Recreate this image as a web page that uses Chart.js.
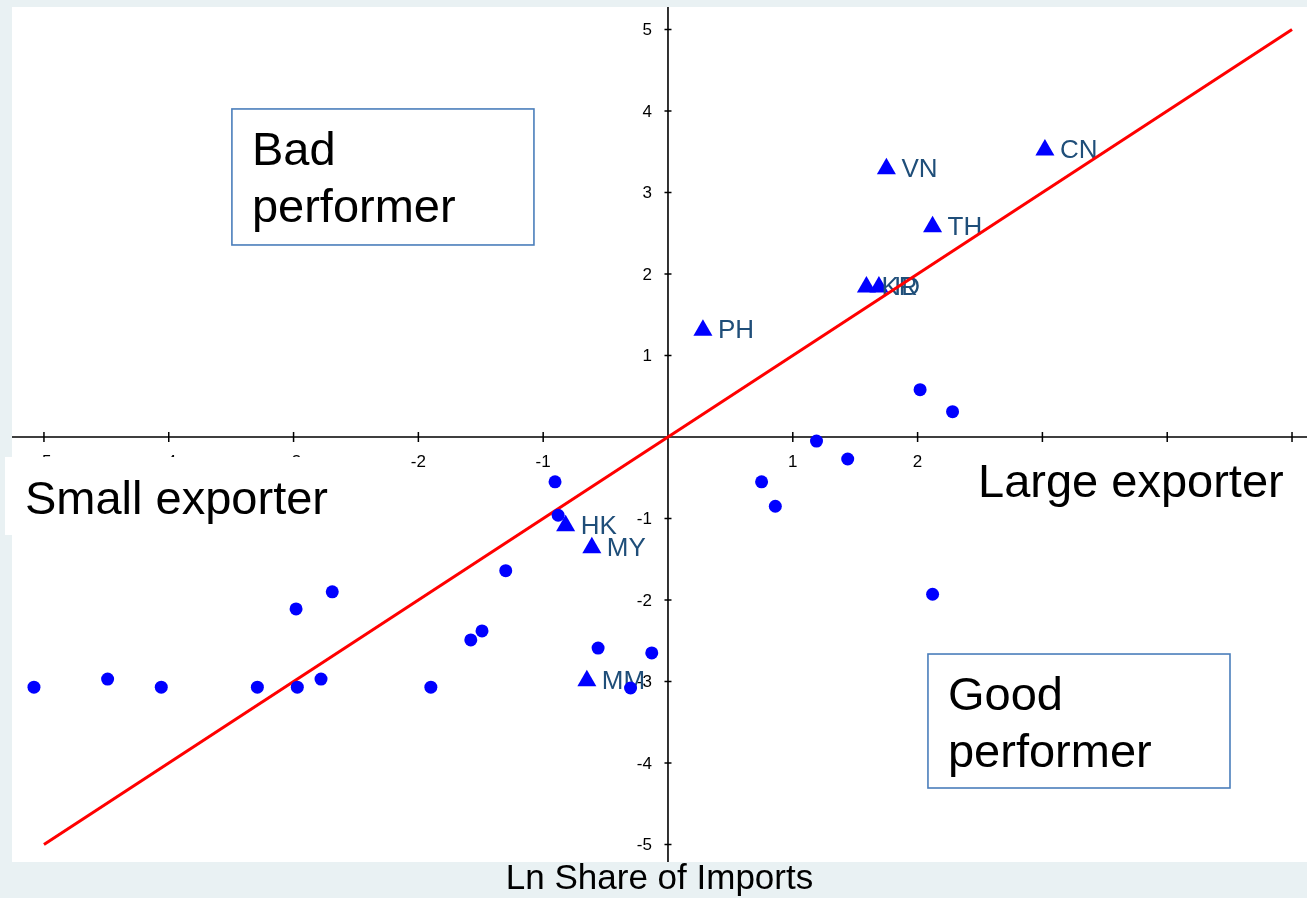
<!DOCTYPE html>
<html>
<head>
<meta charset="utf-8">
<title>Ln Share of Imports</title>
<script src="https://cdn.jsdelivr.net/npm/chart.js@4.4.1/dist/chart.umd.min.js"></script>
<style>
  html, body { margin: 0; padding: 0; background: #e9f1f3; overflow: hidden; }
  #wrap { width: 1307px; height: 898px; position: relative; }
</style>
</head>
<body>
<div id="wrap"><canvas id="chart"></canvas></div>
<script>
// Labelled economies (triangles)
const exporterCodes = ['CN', 'VN', 'TH', 'KR', 'ID', 'PH', 'HK', 'MY', 'MM'];
const exporterX = [3.02, 1.75, 2.12, 1.59, 1.69, 0.28, -0.82, -0.61, -0.65];
const exporterY = [3.52, 3.29, 2.58, 1.84, 1.84, 1.31, -1.09, -1.36, -2.99];

// Other economies (dots)
const otherX = [-0.905, -0.88, -1.30, -2.69, -2.98, -1.49, -1.58, -0.56, -0.13, -0.30,
                -5.08, -4.49, -4.06, -3.29, -2.97, -2.78, -1.90,
                1.19, 1.44, 0.75, 0.86, 2.02, 2.28, 2.12];
const otherY = [-0.55, -0.96, -1.64, -1.90, -2.11, -2.38, -2.49, -2.59, -2.65, -3.08,
                -3.07, -2.97, -3.07, -3.07, -3.07, -2.97, -3.07,
                -0.05, -0.27, -0.55, -0.85, 0.58, 0.31, -1.93];

// 45-degree reference line
const lineX = [-5, 5];
const lineY = [-5, 5];

// Axis ticks
const xTickValues = [-5, -4, -3, -2, -1, 1, 2, 3, 4, 5];
const yTickValues = [5, 4, 3, 2, 1, -1, -2, -3, -4, -5];
const xRange = [-5.256, 5.12];
const yRange = [-5.215, 5.276];

const FONT = "'Liberation Sans', Arial, Helvetica, sans-serif";
const LABEL_BLUE = '#1f4e79';
const MARK_BLUE = '#0000ff';

const toPoints = (xs, ys) => xs.map((x, i) => ({ x: x, y: ys[i] }));

// Grey page with a white plotting region
const backdrop = {
  id: 'backdrop',
  beforeDraw(chart) {
    const { ctx, chartArea: a } = chart;
    ctx.save();
    ctx.fillStyle = '#e9f1f3';
    ctx.fillRect(0, 0, chart.width, chart.height);
    ctx.fillStyle = '#ffffff';
    ctx.fillRect(a.left, a.top, a.right - a.left, a.bottom - a.top);
    ctx.restore();
  }
};

// Axes crossing at the origin, with tick marks and numbers
const crossAxes = {
  id: 'crossAxes',
  beforeDatasetsDraw(chart) {
    const { ctx, chartArea: a, scales: { x, y } } = chart;
    const x0 = x.getPixelForValue(0);
    const y0 = y.getPixelForValue(0);
    ctx.save();
    ctx.strokeStyle = '#000';
    ctx.lineWidth = 1.6;
    ctx.beginPath();
    ctx.moveTo(a.left, y0); ctx.lineTo(a.right, y0);
    ctx.moveTo(x0, a.top); ctx.lineTo(x0, a.bottom);
    ctx.stroke();

    ctx.lineWidth = 1.5;
    ctx.beginPath();
    xTickValues.forEach(v => {
      const px = x.getPixelForValue(v);
      ctx.moveTo(px, y0 - 5); ctx.lineTo(px, y0 + 5);
    });
    yTickValues.forEach(v => {
      const py = y.getPixelForValue(v);
      ctx.moveTo(x0 - 3.5, py); ctx.lineTo(x0 + 3.5, py);
    });
    ctx.stroke();

    ctx.fillStyle = '#000';
    ctx.font = '17px ' + FONT;
    ctx.textAlign = 'center';
    ctx.textBaseline = 'middle';
    xTickValues.forEach(v => {
      ctx.fillText(String(v), x.getPixelForValue(v), y0 + 25);
    });
    ctx.textAlign = 'right';
    yTickValues.forEach(v => {
      ctx.fillText(String(v), x0 - 16, y.getPixelForValue(v) + 1);
    });
    ctx.restore();
  }
};

// Country codes next to the triangle markers
const codeLabels = {
  id: 'codeLabels',
  afterDatasetDraw(chart, args) {
    if (chart.data.datasets[args.index].id !== 'labelled') return;
    const { ctx } = chart;
    ctx.save();
    ctx.fillStyle = LABEL_BLUE;
    ctx.font = '26px ' + FONT;
    ctx.textAlign = 'left';
    ctx.textBaseline = 'alphabetic';
    args.meta.data.forEach((pt, i) => {
      ctx.fillText(exporterCodes[i], pt.x + 15, pt.y + 8);
    });
    ctx.restore();
  }
};

// Quadrant captions
const captions = {
  id: 'captions',
  afterDraw(chart) {
    const { ctx, scales: { x, y } } = chart;
    const px = v => x.getPixelForValue(v);
    const py = v => y.getPixelForValue(v);
    ctx.save();
    ctx.font = '47px ' + FONT;
    ctx.textAlign = 'left';
    ctx.textBaseline = 'alphabetic';

    // framed boxes
    const framed = [
      { x1: -3.494, y1: 4.025, x2: -1.074, y2: 2.356, lines: ['Bad', 'performer'] },
      { x1: 2.083, y1: -2.663, x2: 4.503, y2: -4.307, lines: ['Good', 'performer'] }
    ];
    framed.forEach(b => {
      const l = px(b.x1), t = py(b.y1), r = px(b.x2), btm = py(b.y2);
      ctx.fillStyle = '#ffffff';
      ctx.fillRect(l, t, r - l, btm - t);
      ctx.strokeStyle = '#4a7ebb';
      ctx.lineWidth = 1.6;
      ctx.strokeRect(l, t, r - l, btm - t);
      ctx.fillStyle = '#000';
      b.lines.forEach((s, k) => ctx.fillText(s, l + 20, t + 56 + k * 57));
    });

    // plain white boxes on the horizontal axis
    const plain = [
      { x1: -5.312, y1: -0.245, x2: -2.628, y2: -1.202, text: 'Small exporter', tx: -5.152, ty: -0.945 },
      { x1: 2.131, y1: -0.074, x2: 5.056, y2: -1.018, text: 'Large exporter', tx: 2.484, ty: -0.736 }
    ];
    plain.forEach(b => {
      const l = px(b.x1), t = py(b.y1), r = px(b.x2), btm = py(b.y2);
      ctx.fillStyle = '#ffffff';
      ctx.fillRect(l, t, r - l, btm - t);
      ctx.fillStyle = '#000';
      ctx.fillText(b.text, px(b.tx), py(b.ty));
    });
    ctx.restore();
  }
};

new Chart(document.getElementById('chart'), {
  type: 'scatter',
  data: {
    datasets: [
      {
        id: 'others',
        data: toPoints(otherX, otherY),
        pointStyle: 'circle',
        pointRadius: 6.5,
        backgroundColor: MARK_BLUE,
        borderColor: MARK_BLUE,
        borderWidth: 0,
        order: 0
      },
      {
        id: 'diagonal',
        type: 'line',
        data: toPoints(lineX, lineY),
        borderColor: '#ff0000',
        borderWidth: 3,
        pointRadius: 0,
        fill: false,
        order: 1
      },
      {
        id: 'labelled',
        data: toPoints(exporterX, exporterY),
        pointStyle: 'triangle',
        pointRadius: 11,
        backgroundColor: MARK_BLUE,
        borderColor: MARK_BLUE,
        borderWidth: 0,
        order: 2
      }
    ]
  },
  options: {
    responsive: true,
    maintainAspectRatio: false,
    animation: false,
    events: [],
    layout: { autoPadding: false, padding: { left: 12, top: 7, right: 0, bottom: 0 } },
    scales: {
      x: { type: 'linear', min: xRange[0], max: xRange[1], display: false },
      y: { type: 'linear', min: yRange[0], max: yRange[1], display: false }
    },
    plugins: {
      legend: { display: false },
      tooltip: { enabled: false },
      title: {
        display: true,
        position: 'bottom',
        text: 'Ln Share of Imports',
        color: '#000',
        font: { family: FONT, size: 35, weight: 'normal', lineHeight: 1 },
        padding: { top: 0, bottom: 1 }
      }
    }
  },
  plugins: [backdrop, crossAxes, codeLabels, captions]
});
</script>
</body>
</html>
